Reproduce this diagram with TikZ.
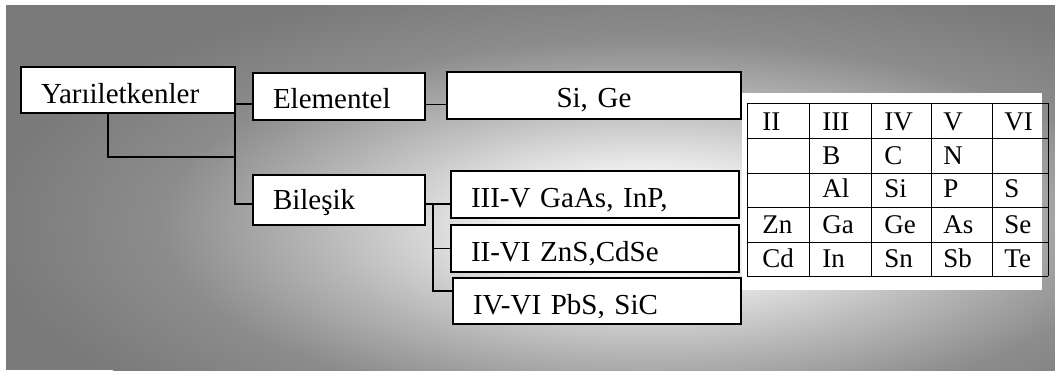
\documentclass[tikz,border=0pt]{standalone}
\usepackage{fontspec}
\setmainfont{Liberation Serif}
\colorlet{arka}{black!52}
\pgfdeclareradialshading{parlak}{\pgfpoint{0bp}{0bp}}{color(0bp)=(white); color(5bp)=(white!95!black); color(12.5bp)=(white!72!black); color(18.5bp)=(white!55!black); color(25bp)=(arka); color(50bp)=(arka)}

\begin{document}
\begin{tikzpicture}[x=0.5pt,y=-0.5pt,
    kutu/.style={draw,line width=1pt,fill=white,anchor=north west,inner xsep=10pt,inner ysep=0pt,align=left,font=\fontsize{14.5}{16}\selectfont},
    hat/.style={line width=0.8pt},
    tablo/.style={line width=0.5pt},
    hucre/.style={anchor=base west,inner sep=0pt,font=\fontsize{13.5}{15}\selectfont}]
    \useasboundingbox (0,0) rectangle (1055,370);
    % background
    \begin{scope}
      \clip (6,5) rectangle (1055,370);
      \fill[arka] (6,5) rectangle (1055,370);
      \shade[shading=parlak] (650,225) ellipse [x radius=330pt, y radius=125pt];
    \end{scope}
    % boxes
    \node[kutu,text width=87pt,text height=18pt,text depth=5pt] (yar) at (20,66) {Yarıiletkenler};
    \node[kutu,text width=66pt,text height=17.5pt,text depth=6pt] (ele) at (252,72) {Elementel};
    \node[kutu,text width=127pt,text height=17.5pt,text depth=6pt,align=center] (sige) at (446,71) {Si, Ge};
    \node[kutu,text width=66pt,text height=17pt,text depth=8pt] (bil) at (252,174) {Bileşik};
    \node[kutu,text width=124pt,text height=18pt,text depth=5.5pt] (iiiv) at (450,170) {III-V GaAs, InP,};
    \node[kutu,text width=124pt,text height=18pt,text depth=5.5pt] (iivi) at (450,224) {II-VI ZnS,CdSe};
    \node[kutu,text width=124pt,text height=18pt,text depth=5pt] (ivvi) at (452,277) {IV-VI PbS, SiC};
    % connectors
    \coordinate (govde) at (235,104);
    \coordinate (kol) at (235,157);
    \coordinate (dal) at (433,203);
    \draw[hat] (govde) -- (govde -| ele.west);
    \draw[hat] (govde) |- ([yshift=-2pt]bil.west);
    \draw[hat] ([xshift=-10pt]yar.south) |- (kol);
    \draw[hat] ([yshift=-4pt]ele.east) -- ([yshift=-4pt]ele.east -| sige.west);
    \draw[hat] ([yshift=-2pt]bil.east) -- ([yshift=-2pt]bil.east -| iiiv.west);
    \draw[hat] (dal) |- ([yshift=5pt]ivvi.west);
    \draw[hat] (dal |- iivi.west) -- (iivi.west);
    % table
    \fill[white] (742,93) rectangle (1042,290);
    \foreach \y in {103,138,173,207,242,276}
      \draw[tablo] (747,\y) -- (1048,\y);
    \foreach \x in {747,809,871,931,992,1048}
      \draw[tablo] (\x,103) -- (\x,276);
    \foreach \t/\x/\y in {II/762/130,III/822/130,IV/884/130,V/943/130,VI/1004/130,
        B/822/164,C/884/164,N/943/164,
        Al/822/197,Si/884/197,P/943/197,S/1004/197,
        Zn/762/233,Ga/822/233,Ge/884/233,As/943/233,Se/1004/233,
        Cd/762/267,In/822/267,Sn/884/267,Sb/943/267,Te/1004/267}
      \node[hucre] (h-\t) at (\x,\y) {\t};
\end{tikzpicture}
\end{document}
